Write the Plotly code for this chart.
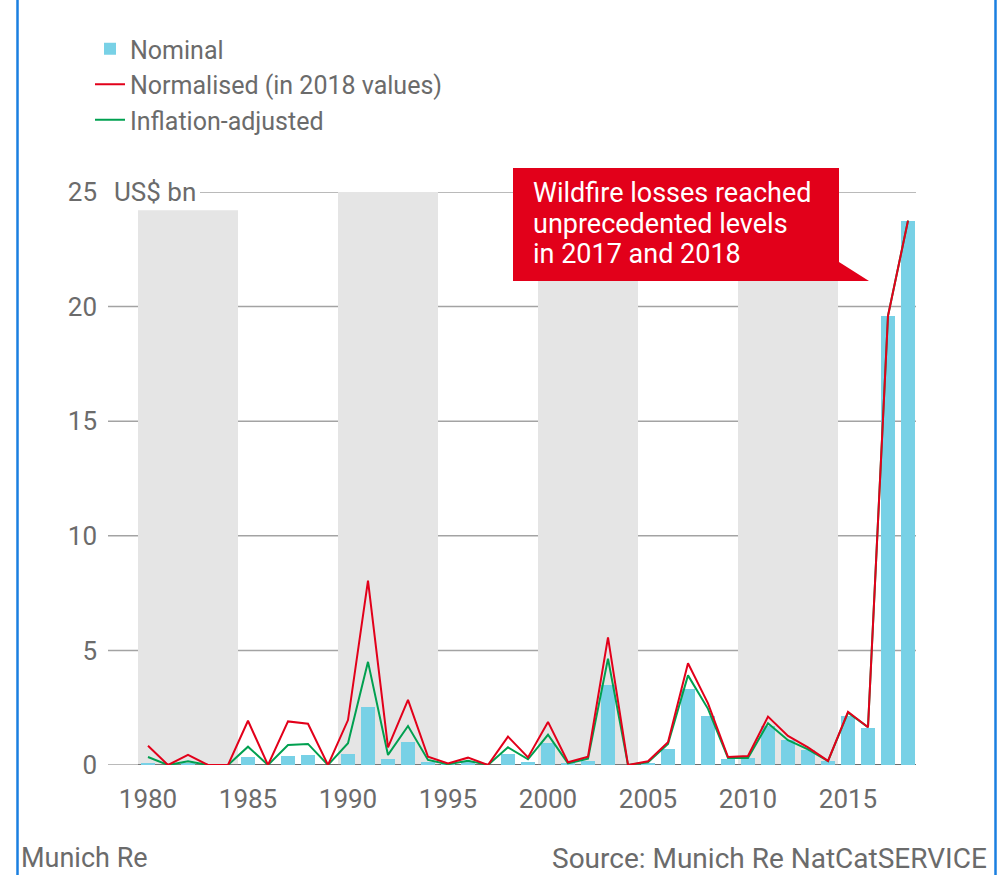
import plotly.graph_objects as go

years = list(range(1980, 2019))
nominal = [0.07, 0.0, 0.05, 0.0, 0.0, 0.35, 0.0, 0.39, 0.42, 0.0,
           0.5, 2.52, 0.26, 0.99, 0.12, 0.03, 0.15, 0.0, 0.49, 0.15,
           0.95, 0.06, 0.17, 3.49, 0.0, 0.09, 0.71, 3.3, 2.12, 0.28,
           0.29, 1.69, 1.07, 0.66, 0.17, 2.15, 1.6, 19.6, 23.74]
normalised = [0.84, 0.0, 0.44, 0.0, 0.0, 1.93, 0.0, 1.9, 1.8, 0.0,
              1.96, 8.04, 0.77, 2.84, 0.36, 0.07, 0.32, 0.0, 1.24, 0.33,
              1.88, 0.12, 0.36, 5.57, 0.0, 0.16, 0.99, 4.44, 2.69, 0.35,
              0.39, 2.11, 1.27, 0.77, 0.18, 2.32, 1.65, 19.6, 23.75]
inflation = [0.35, 0.0, 0.16, 0.0, 0.0, 0.8, 0.0, 0.87, 0.92, 0.0,
             0.95, 4.5, 0.44, 1.7, 0.22, 0.03, 0.19, 0.0, 0.77, 0.25,
             1.32, 0.07, 0.28, 4.64, 0.0, 0.12, 0.92, 3.91, 2.45, 0.31,
             0.31, 1.82, 1.08, 0.68, 0.17, 2.28, 1.65, 19.6, 23.75]
band_starts = [1980, 1990, 2000, 2010]
y_ticks = [0, 5, 10, 15, 20, 25]
x_ticks = [1980, 1985, 1990, 1995, 2000, 2005, 2010, 2015]
callout_lines = ["Wildfire losses reached", "unprecedented levels", "in 2017 and 2018"]

FONT = "Roboto"
GREY = "#6b6b6b"
BAR = "#78d1e6"
RED = "#e2001a"
GREEN = "#00a050"

# pixel helpers for layout decoration (plot area: x 108..916, y 192..765)
def px(x):
    return (x - 108) / 808

def py(y):
    return (765 - y) / 573

fig = go.Figure()
fig.add_trace(go.Bar(x=years, y=nominal, name="Nominal", marker_color=BAR,
                     marker_line_width=0, width=0.7, legendrank=1))
fig.add_trace(go.Scatter(x=years, y=inflation, name="Inflation-adjusted", mode="lines",
                         line=dict(color=GREEN, width=2), legendrank=3))
fig.add_trace(go.Scatter(x=years, y=normalised, name="Normalised (in 2018 values)", mode="lines",
                         line=dict(color=RED, width=2), legendrank=2))

shapes = []
# grey bands
for i, b in enumerate(band_starts):
    shapes.append(dict(type="rect", xref="x", yref="y", x0=b - 0.5, x1=b + 4.5,
                       y0=0, y1=24.2 if i == 0 else 25,
                       fillcolor="#e5e5e5", line_width=0, layer="below"))
# gridlines
for t in y_ticks:
    x0 = px(200) if t == 25 else 0.0
    shapes.append(dict(type="line", xref="paper", yref="y", x0=x0, x1=1.0, y0=t, y1=t,
                       line=dict(color="#a3a3a3", width=1.5), layer="below"))
# dark baseline under the data
shapes.append(dict(type="line", xref="x", yref="y", x0=1979.5, x1=2018.4, y0=0, y1=0,
                   line=dict(color="#555555", width=1.5), layer="below"))
# callout box with pointer
path = "M {a},{t} L {b},{t} L {b},{m} L {c},{bo} L {a},{bo} Z".format(
    a=px(513), b=px(839), c=px(869), t=py(168), m=py(262), bo=py(281))
shapes.append(dict(type="path", xref="paper", yref="paper", path=path,
                   fillcolor=RED, line_width=0, layer="above"))
# blue frame lines at page edges
for xx in (17.5, 995.5):
    shapes.append(dict(type="line", xref="paper", yref="paper", x0=px(xx), x1=px(xx),
                       y0=py(880), y1=py(-5), line=dict(color="#1a7fe0", width=2.5)))
fig.update_layout(shapes=shapes)

annotations = [
    dict(text="US$ bn", xref="paper", yref="y", x=px(112), y=25, xanchor="left", yanchor="middle",
         showarrow=False, font=dict(family=FONT, size=26, color=GREY)),
    dict(text="Munich Re", xref="paper", yref="paper", x=px(19), y=py(858),
         xanchor="left", yanchor="middle", showarrow=False,
         font=dict(family=FONT, size=27, color=GREY)),
    dict(text="Source: Munich Re NatCatSERVICE", xref="paper", yref="paper",
         x=px(989), y=py(858), xanchor="right", yanchor="middle",
         showarrow=False, font=dict(family=FONT, size=28, color=GREY)),
]
for line_text, ypix in zip(callout_lines, (193, 224, 254)):
    annotations.append(dict(text=line_text, xref="paper", yref="paper", x=px(531), y=py(ypix),
                            xanchor="left", yanchor="middle", showarrow=False,
                            font=dict(family=FONT, size=27, color="white")))
fig.update_layout(annotations=annotations)

fig.update_layout(
    width=999, height=875,
    margin=dict(l=108, r=83, t=192, b=110),
    paper_bgcolor="white", plot_bgcolor="white",
    font=dict(family=FONT, size=26, color=GREY),
    bargap=0,
    showlegend=True,
    legend=dict(x=px(90), y=py(26), xanchor="left", yanchor="top",
                bgcolor="rgba(0,0,0,0)", font=dict(family=FONT, size=25, color=GREY),
                tracegroupgap=0),
    xaxis=dict(range=[1978, 2018.4], tickvals=x_ticks, showgrid=False, zeroline=False,
               showline=False, ticks="", ticklabelstandoff=16, fixedrange=True),
    yaxis=dict(range=[0, 25], tickvals=y_ticks, showgrid=False, zeroline=False,
               showline=False, ticks="", ticklabelstandoff=10, fixedrange=True),
)

fig.write_html("out.html")
